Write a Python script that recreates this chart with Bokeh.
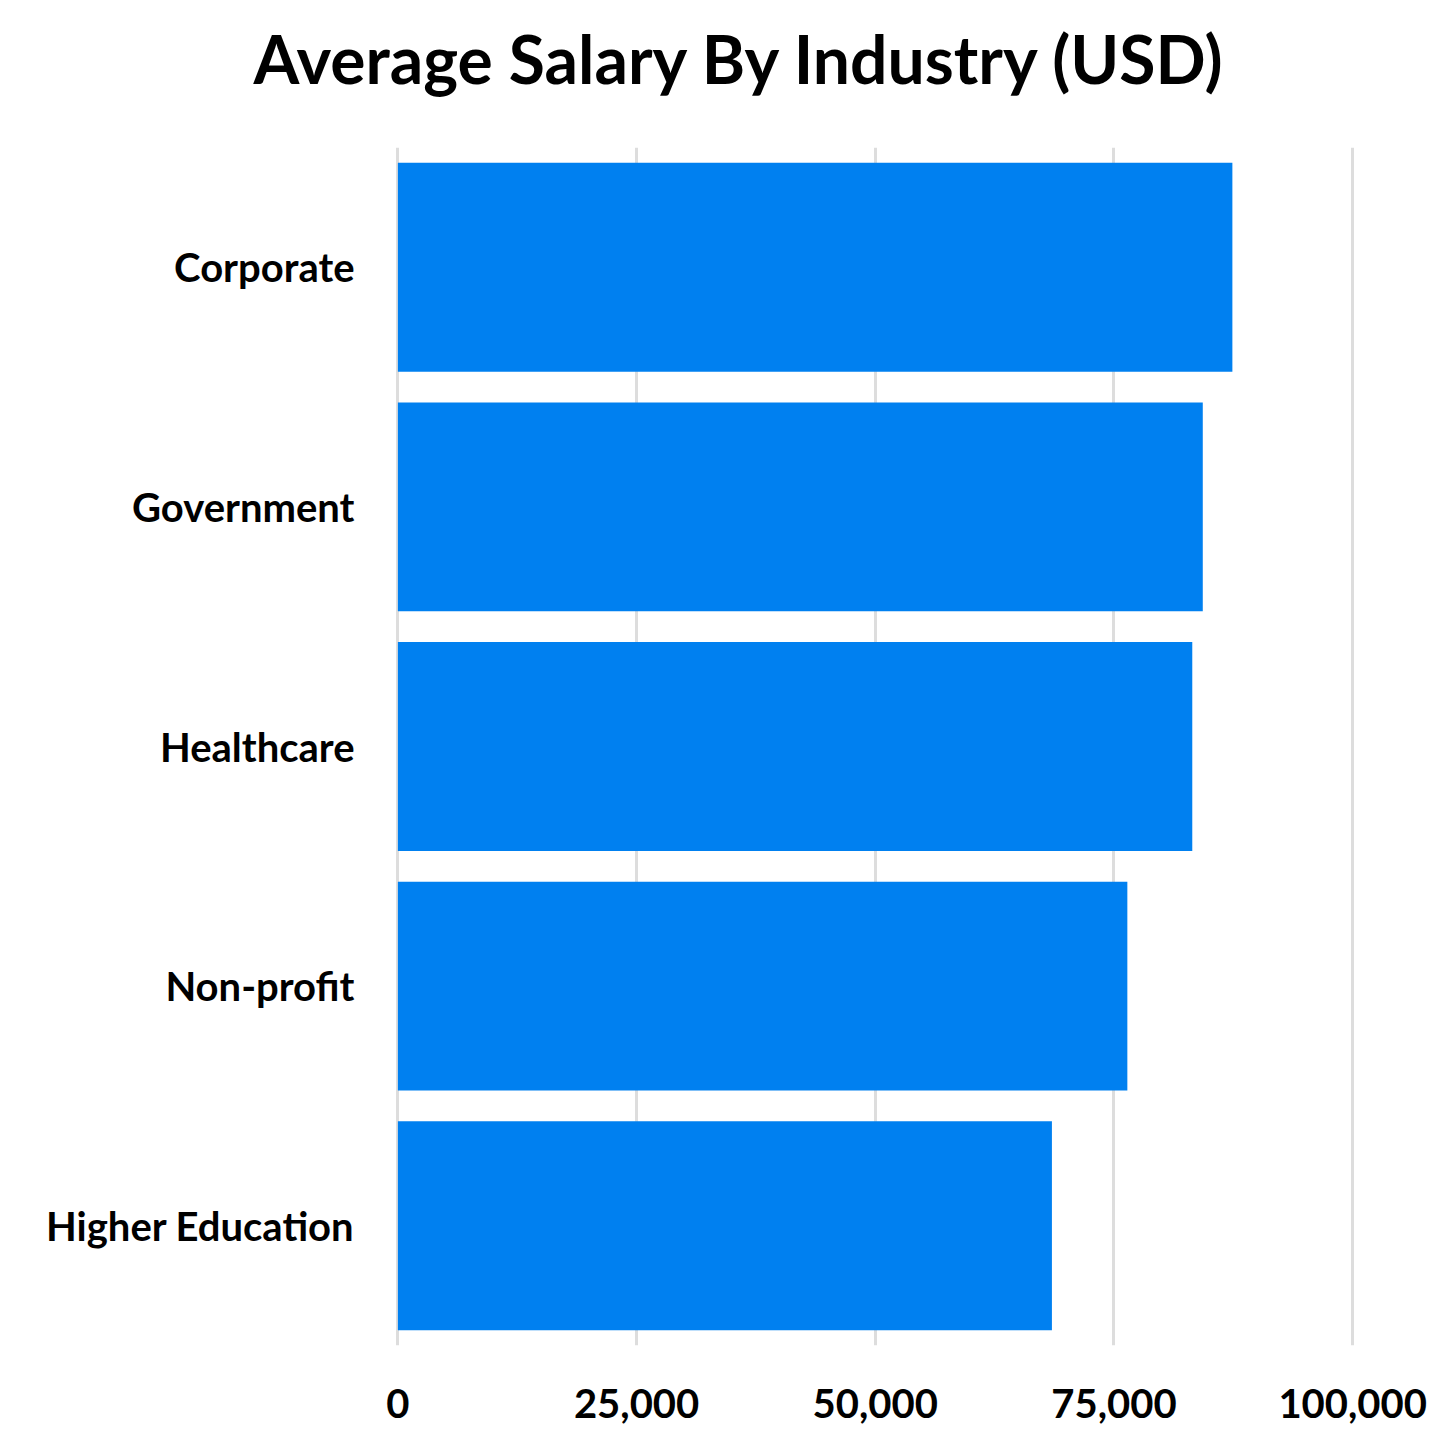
from bokeh.plotting import figure
from bokeh.models import NumeralTickFormatter, FixedTicker, Range1d, Title
from bokeh.embed import file_html
from bokeh.resources import INLINE

industries = ["Corporate", "Government", "Healthcare", "Non-profit", "Higher Education"]
salaries = [87400, 84300, 83200, 76400, 68500]
x_ticks = [0, 25000, 50000, 75000, 100000]
title_text = "Average Salary By Industry (USD)"

FONT = "Lato"

p = figure(
    y_range=list(reversed(industries)),
    x_range=Range1d(-250, 100400),
    width=1439, height=1434,
    output_backend="svg", toolbar_location=None,
    min_border_left=395, min_border_right=83,
    min_border_top=147, min_border_bottom=89,
)

p.hbar(y=industries, right=salaries, left=0, height=0.872, color="#0080F0", line_color=None)

# spacer (nearest the frame), then the real title above it
spacer = Title(text=" ", text_font_size="39px", standoff=0)
p.add_layout(spacer, "above")
main_title = Title(text=title_text, text_font=FONT, text_font_style="bold",
                   text_font_size="66px", align="left", offset=-142, standoff=10,
                   text_color="#000000")
p.add_layout(main_title, "above")

p.outline_line_color = None
p.ygrid.grid_line_color = None
p.xgrid.grid_line_color = "#dddddd"
p.xgrid.grid_line_width = 3
p.xaxis.ticker = FixedTicker(ticks=x_ticks)
p.xaxis.formatter = NumeralTickFormatter(format="0,0")

for ax in (p.xaxis, p.yaxis):
    ax.axis_line_color = None
    ax.major_tick_line_color = None
    ax.minor_tick_line_color = None
    ax.major_label_text_font = FONT
    ax.major_label_text_font_style = "bold"
    ax.major_label_text_font_size = "40px"
    ax.major_label_text_color = "#000000"

p.xaxis.major_label_standoff = 37
p.yaxis.major_label_standoff = 35
p.background_fill_color = "white"
p.border_fill_color = "white"

open("out.html", "w").write(file_html(p, INLINE))
